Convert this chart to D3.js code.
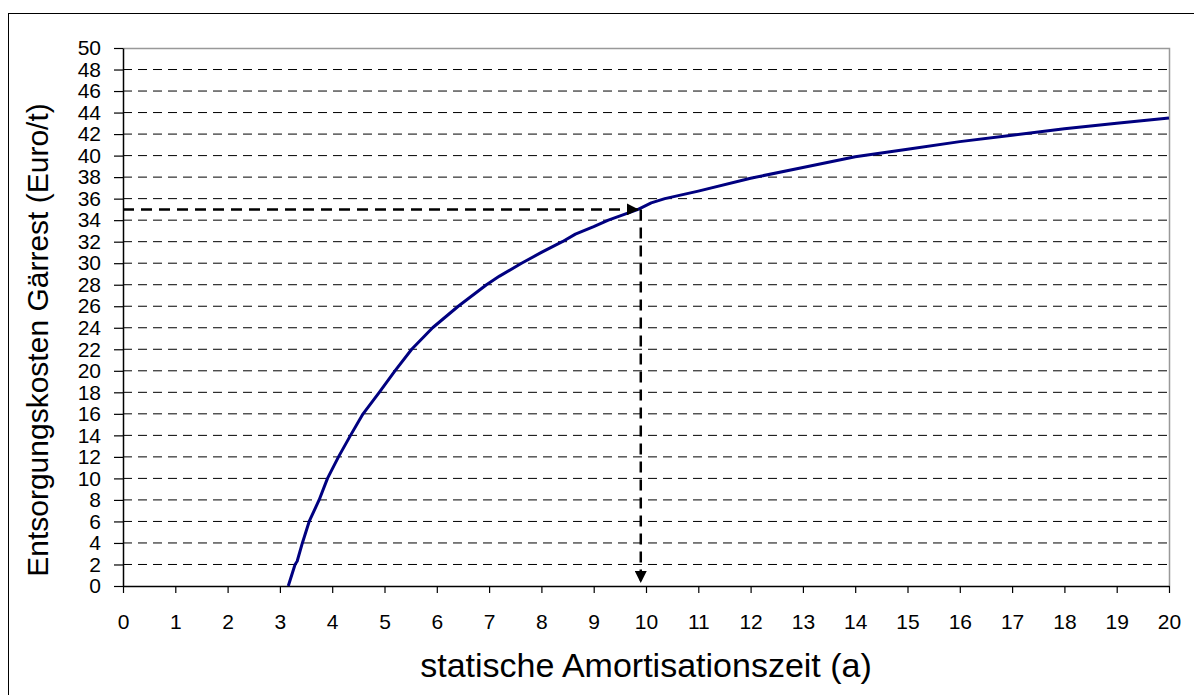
<!DOCTYPE html>
<html>
<head>
<meta charset="utf-8">
<script src="https://cdn.jsdelivr.net/npm/d3@7"></script>
<style>
  html, body { margin: 0; padding: 0; background: #fff; }
  svg { display: block; }
  text { font-family: "Liberation Sans", Arial, sans-serif; fill: #000; }
</style>
</head>
<body>
<script>
// Amortisation period (years) vs. disposal cost of digestate (Euro per tonne)
const amortYears = [3.16, 3.29, 3.33, 3.43, 3.56, 3.75, 3.91, 4.12, 4.35, 4.59, 4.90, 5.20, 5.52, 5.92, 6.41, 6.95, 7.20, 7.62, 8.00, 8.40, 8.65, 9.00, 9.28, 9.85, 10.10, 10.36, 11, 12, 13, 14, 15, 16, 17, 18, 19, 20];
const disposalCost = [0, 2, 2.3, 4, 6, 8, 10, 12, 14, 16, 18, 20, 22, 24, 26, 28, 28.8, 30, 31, 32, 32.7, 33.4, 34, 35, 35.6, 36, 36.7, 37.9, 38.9, 39.9, 40.6, 41.3, 41.9, 42.5, 43.0, 43.5];

// Read-off point marked with the dashed arrows
const readOffYears = [9.9];
const readOffCost = [35];

const xTicks = d3.range(0, 21, 1);
const yTicks = d3.range(0, 51, 2);

const xTitle = "statische Amortisationszeit (a)";
const yTitle = "Entsorgungskosten Gärrest (Euro/t)";

const W = 1194, H = 695;
const plot = { left: 123, right: 1169, top: 48, bottom: 586 };

const svg = d3.select("body").append("svg")
  .attr("width", W).attr("height", H);

svg.append("rect").attr("width", W).attr("height", H).attr("fill", "#fff");

// Outer chart frame
svg.append("rect")
  .attr("x", 8.5).attr("y", 13.5)
  .attr("width", 1200).attr("height", 700)
  .attr("fill", "none").attr("stroke", "#000").attr("stroke-width", 1);

const x = d3.scaleLinear().domain([0, 20]).range([plot.left, plot.right]);
const y = d3.scaleLinear().domain([0, 50]).range([plot.bottom, plot.top]);

// Plot area border (top and right in grey)
svg.append("path")
  .attr("d", `M${plot.left},${plot.top + 0.5}H${plot.right + 0.5}V${plot.bottom}`)
  .attr("fill", "none").attr("stroke", "#999").attr("stroke-width", 1.5);

// Horizontal dashed gridlines
svg.append("g")
  .selectAll("line")
  .data(yTicks.filter(v => v > 0 && v < 50))
  .join("line")
  .attr("x1", plot.left).attr("x2", plot.right)
  .attr("y1", d => y(d)).attr("y2", d => y(d))
  .attr("stroke", "#000").attr("stroke-width", 1)
  .attr("stroke-dasharray", "9,6");

// Axes
const tickFont = 21;
const yAxis = svg.append("g")
  .attr("transform", `translate(${plot.left},0)`)
  .call(d3.axisLeft(y).tickValues(yTicks).tickFormat(d3.format("d"))
    .tickSize(9).tickPadding(13).tickSizeOuter(0));
yAxis.selectAll("text").attr("font-size", tickFont).attr("font-family", "Liberation Sans, Arial, sans-serif");

const xAxis = svg.append("g")
  .attr("transform", `translate(0,${plot.bottom})`)
  .call(d3.axisBottom(x).tickValues(xTicks).tickFormat(d3.format("d"))
    .tickSize(7).tickPadding(21).tickSizeOuter(0));
xAxis.selectAll("text").attr("font-size", tickFont).attr("font-family", "Liberation Sans, Arial, sans-serif");

svg.selectAll(".domain").attr("stroke", "#000").attr("stroke-width", 1.5);
svg.selectAll(".tick line").attr("stroke", "#000").attr("stroke-width", 1.2);

// Arrow markers
const defs = svg.append("defs");
defs.append("marker")
  .attr("id", "arrowHead")
  .attr("viewBox", "0 0 10 10")
  .attr("refX", 10).attr("refY", 5)
  .attr("markerUnits", "userSpaceOnUse")
  .attr("markerWidth", 12).attr("markerHeight", 12)
  .attr("orient", "auto")
  .append("path").attr("d", "M0,0L10,5L0,10Z").attr("fill", "#000");

// Curve
const line = d3.line()
  .x((d, i) => x(amortYears[i]))
  .y(d => y(d));

svg.append("path")
  .datum(disposalCost)
  .attr("d", line)
  .attr("fill", "none")
  .attr("stroke", "#000080")
  .attr("stroke-width", 3)
  .attr("stroke-linejoin", "round");

// Dashed read-off arrows: horizontal from the y axis to the curve, then down to the x axis
svg.append("line")
  .attr("x1", x(0)).attr("y1", y(readOffCost[0]))
  .attr("x2", x(readOffYears[0]) - 2).attr("y2", y(readOffCost[0]))
  .attr("stroke", "#000").attr("stroke-width", 2.5)
  .attr("stroke-dasharray", "11,7")
  .attr("marker-end", "url(#arrowHead)");

svg.append("line")
  .attr("x1", x(readOffYears[0])).attr("y1", y(readOffCost[0]))
  .attr("x2", x(readOffYears[0])).attr("y2", y(0) - 3)
  .attr("stroke", "#000").attr("stroke-width", 2.5)
  .attr("stroke-dasharray", "11,7")
  .attr("marker-end", "url(#arrowHead)");

// Axis titles
svg.append("text")
  .attr("x", (plot.left + plot.right) / 2).attr("y", 677)
  .attr("text-anchor", "middle")
  .attr("font-size", 34)
  .text(xTitle);

svg.append("text")
  .attr("transform", `translate(48,${(plot.top + plot.bottom) / 2 + 23}) rotate(-90)`)
  .attr("text-anchor", "middle")
  .attr("font-size", 30)
  .text(yTitle);
</script>
</body>
</html>
